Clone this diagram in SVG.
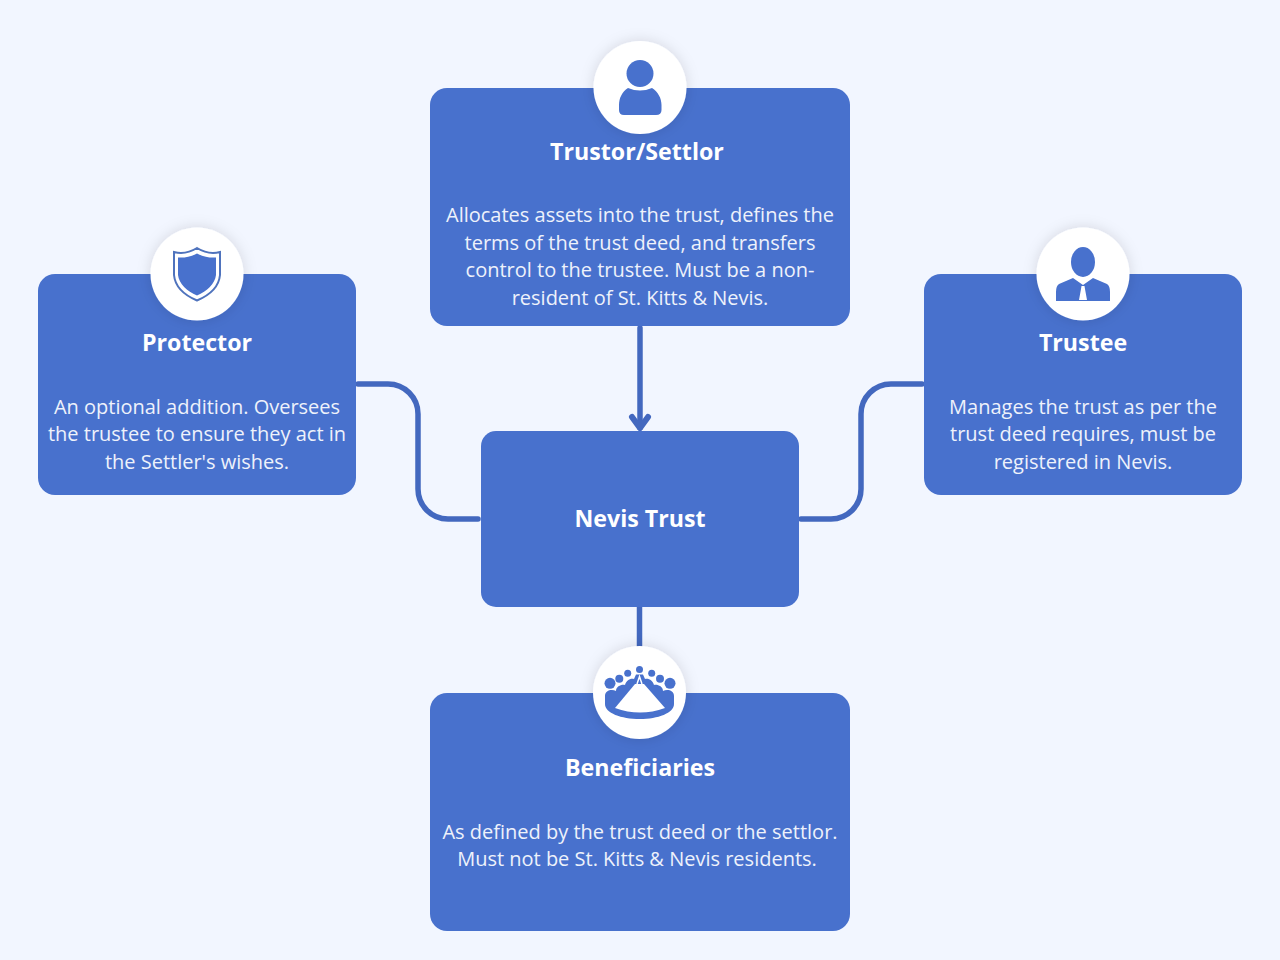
<svg xmlns="http://www.w3.org/2000/svg" width="1280" height="960" viewBox="0 0 1280 960">
<style>
.box{fill:#4871cd}
.conn{fill:none;stroke:#4368bf;stroke-width:5.500;stroke-linecap:round;stroke-linejoin:round}
.t{font-family:"Open Sans",sans-serif;fill:#fff;text-anchor:middle}
.h{font-size:23.200px;font-weight:700}
.b{font-size:20px;fill:#eef2fb}
.badge{fill:#fff;filter:url(#sh)}
.ic{fill:#4871cd}
</style>
<defs>
<filter id="sh" x="-40%" y="-40%" width="180%" height="180%"><feDropShadow dx="0" dy="0" stdDeviation="7" flood-color="#000" flood-opacity="0.13"/></filter>
</defs>
<rect width="1280" height="960" fill="#f2f6ff"/>
<g id="connectors">
<path class="conn" d="M640 328V428"/>
<path class="conn" d="M632 417L640 428L648 417" style="stroke-width:6"/>
<path class="conn" d="M358 384H388A30 30 0 0 1 418 414V489A30 30 0 0 0 448 519H478"/>
<path class="conn" d="M922 384H891A30 30 0 0 0 861 414V489A30 30 0 0 1 831 519H801"/>
<path class="conn" d="M639.500 606V650" style="stroke-linecap:butt"/>
</g>
<g id="trustor">
<rect class="box" x="430" y="88" width="420" height="238" rx="17"/>
<circle class="badge" cx="640" cy="87.500" r="46.500"/>
<circle class="ic" cx="640" cy="73.500" r="13.500"/>
<path class="ic" d="M628 88Q640 93 652 88C658 92 661.500 98 661.500 105V110Q661.500 115 656 115H624Q619 115 619 110V105C619 98 622 92 628 88Z"/>
<text class="t h" x="637" y="160">Trustor/Settlor</text>
<text class="t b" x="640" y="222">Allocates assets into the trust, defines the</text>
<text class="t b" x="640" y="250">terms of the trust deed, and transfers</text>
<text class="t b" x="640" y="277">control to the trustee. Must be a non-</text>
<text class="t b" x="640" y="305">resident of St. Kitts &amp; Nevis.</text>
</g>
<g id="protector">
<rect class="box" x="38" y="274" width="318" height="221" rx="17"/>
<circle class="badge" cx="197" cy="274" r="46.500"/>
<path d="M197 248C189 253 182 254 174 252V275C175 286 184 295 197 300.500C210 295 219 286 220 275V252C212 254 205 253 197 248Z" fill="#fff" stroke="#4f73bd" stroke-width="2"/>
<path class="ic" d="M197 253.500C190 257 184 258 178 257.500V275C179 284 187 291 197 295.500C207 291 215 284 216 275V257.500C210 258 204 257 197 253.500Z"/>
<text class="t h" x="197" y="351">Protector</text>
<text class="t b" x="197" y="414">An optional addition. Oversees</text>
<text class="t b" x="197" y="441">the trustee to ensure they act in</text>
<text class="t b" x="197" y="469">the Settler's wishes.</text>
</g>
<g id="trustee">
<rect class="box" x="924" y="274" width="318" height="221" rx="17"/>
<circle class="badge" cx="1083" cy="274" r="46.500"/>
<ellipse class="ic" cx="1083" cy="262" rx="12" ry="15"/>
<path class="ic" d="M1073 278L1083 285L1093 278L1107 284Q1110 286 1110 292V301H1056V292Q1056 286 1059 284Z"/>
<path d="M1081.500 286H1084.500L1085 289L1087 300H1079L1081 289Z" fill="#fff"/>
<text class="t h" x="1083" y="351">Trustee</text>
<text class="t b" x="1083" y="414">Manages the trust as per the</text>
<text class="t b" x="1083" y="441">trust deed requires, must be</text>
<text class="t b" x="1083" y="469">registered in Nevis.</text>
</g>
<g id="nevis-trust">
<rect class="box" x="481" y="431" width="318" height="176" rx="15"/>
<text class="t h" x="640" y="527">Nevis Trust</text>
</g>
<g id="beneficiaries">
<rect class="box" x="430" y="693" width="420" height="238" rx="17"/>
<circle class="badge" cx="639.500" cy="692.500" r="46.500"/>
<g class="ic">
<circle cx="639.500" cy="669.500" r="3.500"/><circle cx="627.700" cy="673.300" r="3.500"/><circle cx="651.700" cy="673.300" r="3.500"/>
<circle cx="619.300" cy="678.700" r="4"/><circle cx="660" cy="678.700" r="4"/><circle cx="610" cy="683.300" r="5.500"/><circle cx="670" cy="683.300" r="5.500"/>
<path d="M605 696C605 690 612 689 616 691C616 686 622 684 625 685C626 681 630 678 634 679L636 674.500H643L645 679C649 678 653 681 654 685C657 684 663 686 663 691C667 689 674 690 674 696V704C674 713 658 719 640 719C621 719 605 713 605 704Z"/>
</g>
<path d="M635 684H644L665 708Q640 717 615 708Z" fill="#fff"/>
<path d="M637 684L639.500 676.500L642 684" fill="none" stroke="#fff" stroke-width="1.500"/>
<text class="t h" x="640" y="776">Beneficiaries</text>
<text class="t b" x="640" y="839">As defined by the trust deed or the settlor.</text>
<text class="t b" x="637" y="866">Must not be St. Kitts &amp; Nevis residents.</text>
</g>
</svg>
